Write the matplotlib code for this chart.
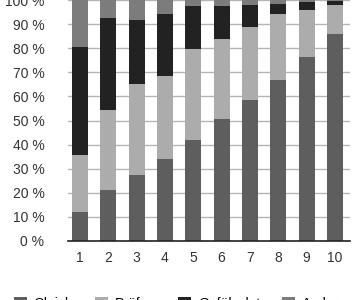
import matplotlib.pyplot as plt
import numpy as np

plt.rcParams['font.family'] = ['Liberation Sans', 'DejaVu Sans']

categories = ['1', '2', '3', '4', '5', '6', '7', '8', '9', '10']
labels = ['Gleich', 'Prüfen', 'Gefährdet', 'Anders']
dark = [12, 21, 27.5, 34, 42, 50.5, 58.5, 67, 76.5, 86]
light = [23.5, 33.5, 37.5, 34.5, 37.5, 33.5, 30.5, 27, 19.5, 12]
black = [45, 38, 26.5, 25.5, 18, 13.5, 9, 4.5, 3, 1.5]
top = [19.5, 7.5, 8.5, 6, 2.5, 2.5, 2, 1.5, 1, 0.5]
colors = ['#5e5e5e', '#acacac', '#222222', '#7c7c7c']

fig = plt.figure(figsize=(3.6, 3.0), dpi=100)
ax = fig.add_axes([68 / 360, 59 / 300, 282 / 360, 241 / 300])

x = np.arange(1, len(categories) + 1)
bottom = np.zeros(len(categories))
for vals, col, lab in zip([dark, light, black, top], colors, labels):
    ax.bar(x, vals, width=0.56, bottom=bottom, color=col, label=lab, zorder=2)
    bottom += np.array(vals)

ax.set_xlim(0.58, 10.53)
ax.set_ylim(0, 100)
ax.set_yticks(range(0, 101, 10))
ax.set_yticklabels([f'{v} %' for v in range(0, 101, 10)])
ax.set_xticks(x)
ax.set_xticklabels(categories)
ax.yaxis.grid(True, color='#b5b5b5', linewidth=1, zorder=0)
ax.set_axisbelow(True)
for s in ['top', 'right', 'left']:
    ax.spines[s].set_visible(False)
ax.spines['bottom'].set_color('#222222')
ax.spines['bottom'].set_linewidth(1.2)
ax.tick_params(length=0, labelsize=10, colors='#333333')
ax.tick_params(axis='y', pad=17)
ax.tick_params(axis='x', pad=7)

# legend sits at the bottom edge, mostly cut off like in the source
fig.legend(loc='upper center', bbox_to_anchor=(0.5, 9 / 300), ncol=4,
           frameon=False, fontsize=10, handlelength=0.9, handleheight=0.9,
           columnspacing=1.6, handletextpad=0.5, borderaxespad=0)

fig.savefig('out.png', dpi=100)
